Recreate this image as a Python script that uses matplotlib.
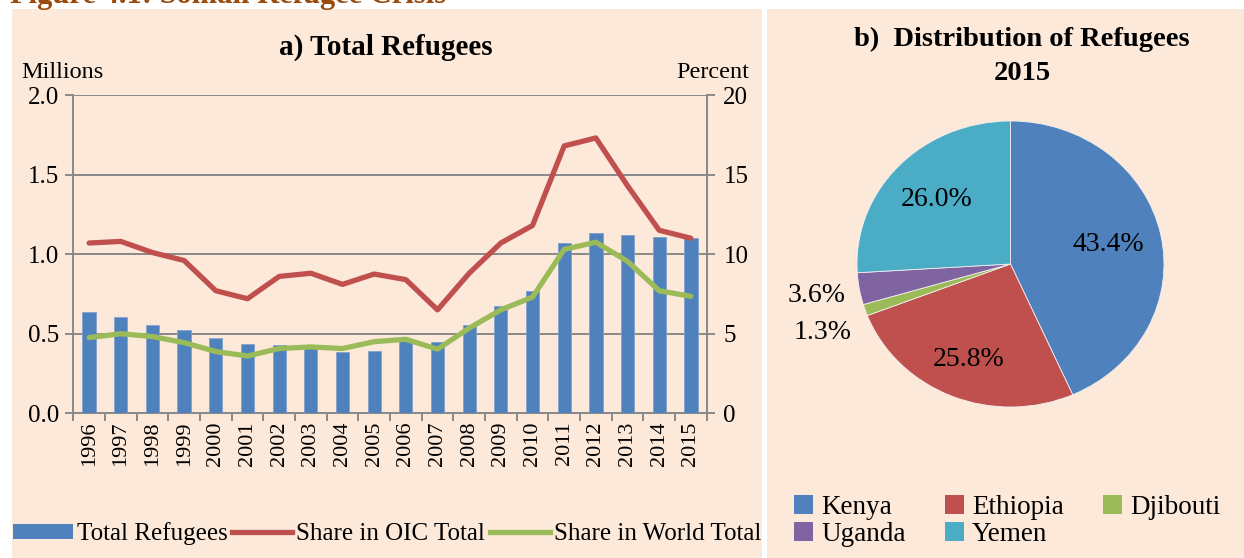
import numpy as np
import matplotlib
matplotlib.use("Agg")
import matplotlib.pyplot as plt
from matplotlib.patches import Rectangle, Patch
from matplotlib.lines import Line2D

plt.rcParams['font.family'] = ['Liberation Serif', 'DejaVu Serif']

# data
years = [str(y) for y in range(1996, 2016)]
total_refugees = [0.635, 0.604, 0.553, 0.522, 0.472, 0.436, 0.428, 0.42, 0.386, 0.39,
                  0.46, 0.45, 0.555, 0.675, 0.767, 1.073, 1.134, 1.12, 1.105, 1.10]
share_oic = [10.7, 10.8, 10.1, 9.6, 7.7, 7.2, 8.6, 8.8, 8.1, 8.75,
             8.4, 6.5, 8.8, 10.7, 11.8, 16.8, 17.3, 14.3, 11.5, 11.0]
share_world = [4.76, 5.0, 4.82, 4.44, 3.88, 3.6, 4.07, 4.17, 4.07, 4.5,
               4.65, 4.03, 5.35, 6.5, 7.3, 10.3, 10.75, 9.55, 7.7, 7.35]

countries = ['Kenya', 'Ethiopia', 'Djibouti', 'Uganda', 'Yemen']
shares_2015 = [43.4, 25.8, 1.3, 3.6, 26.0]

blue = '#4F81BD'
red = '#C0504D'
green = '#9BBB59'
purple = '#8064A2'
teal = '#4BACC6'
pie_colors = [blue, red, green, purple, teal]
peach = '#FDE9DA'
grid_gray = '#898989'

fig = plt.figure(figsize=(12.44, 5.58), dpi=100)
fig.patch.set_facecolor('white')

# panel backgrounds
fig.add_artist(Rectangle((12 / 1244, 0), 750 / 1244, 549 / 558, transform=fig.transFigure,
                         facecolor=peach, edgecolor='none', zorder=0))
fig.add_artist(Rectangle((767 / 1244, 0), 477 / 1244, 549 / 558, transform=fig.transFigure,
                         facecolor=peach, edgecolor='none', zorder=0))

# cut off figure heading at the very top
fig.text(10 / 1244, 1 - 3 / 558, 'Figure 4.1: Somali Refugee Crisis', color='#9A4A0C',
         fontsize=22, fontweight='bold', va='baseline', ha='left')

# ---- a) Total Refugees ----
ax = fig.add_axes([73.3 / 1244, (558 - 413.3) / 558, 633.4 / 1244, 318.3 / 558])
ax.set_facecolor(peach)
x = np.arange(len(years))
ax.bar(x, total_refugees, width=0.42, color=blue, edgecolor='#7FA3D0', linewidth=0.6, zorder=3)
ax.set_xlim(-0.5, len(years) - 0.5)
ax.set_ylim(0, 2.0)
ax.set_yticks([0, 0.5, 1.0, 1.5, 2.0])
ax.set_yticklabels([f'{v:.1f}' for v in [0, 0.5, 1.0, 1.5, 2.0]], fontsize=18)
ax.yaxis.grid(True, color=grid_gray, linewidth=1.4, zorder=1)
ax.set_axisbelow(True)
ax.set_xticks(x)
ax.set_xticklabels(years, rotation=90, fontsize=16)
ax.set_xticks(np.arange(-0.5, len(years)), minor=True)
ax.tick_params(axis='x', which='major', length=0, pad=6)
ax.tick_params(axis='x', which='minor', length=6, width=1.4, color=grid_gray)
ax.tick_params(axis='y', length=6, width=1.4, color=grid_gray, pad=4)
ax.spines['top'].set_visible(False)
for s in ['left', 'bottom', 'right']:
    ax.spines[s].set_color(grid_gray)
    ax.spines[s].set_linewidth(1.4)

ax2 = ax.twinx()
ax2.plot(x, share_oic, color=red, linewidth=3.8, solid_capstyle='round', zorder=4)
ax2.plot(x, share_world, color=green, linewidth=3.8, solid_capstyle='round', zorder=4)
ax2.set_ylim(0, 20)
ax2.set_yticks([0, 5, 10, 15, 20])
ax2.tick_params(axis='y', length=6, width=1.4, color=grid_gray, labelsize=18, pad=6)
for s in ['top', 'left', 'bottom']:
    ax2.spines[s].set_visible(False)
ax2.spines['right'].set_color(grid_gray)
ax2.spines['right'].set_linewidth(1.4)

fig.text(386 / 1244, 1 - 47 / 558, 'a) Total Refugees', fontsize=21, fontweight='bold',
         ha='center', va='center')
fig.text(21 / 1244, 1 - 72 / 558, 'Millions', fontsize=17.5, ha='left', va='center')
fig.text(749 / 1244, 1 - 72 / 558, 'Percent', fontsize=17.5, ha='right', va='center')

handles_a = [Patch(facecolor=blue, edgecolor='none'),
             Line2D([], [], color=red, linewidth=3.8),
             Line2D([], [], color=green, linewidth=3.8)]
fig.legend(handles_a, ['Total Refugees', 'Share in OIC Total', 'Share in World Total'],
           loc='center', bbox_to_anchor=(387 / 1244, 1 - 534 / 558), ncol=3, frameon=False,
           fontsize=18, handlelength=2.4, handletextpad=0.15, columnspacing=0.2,
           handleheight=0.5, borderpad=0.1)

# ---- b) Distribution of Refugees 2015 ----
axp = fig.add_axes([(1010.5 - 153.5) / 1244, (558 - 264 - 143) / 558, 307 / 1244, 286 / 558])
wedges, _ = axp.pie(shares_2015, colors=pie_colors, startangle=90, counterclock=False,
                    wedgeprops=dict(edgecolor='#F3EEEE', linewidth=0.6))
axp.set_aspect('auto')
axp.set_xlim(-1, 1)
axp.set_ylim(-1, 1)
label_r = [0.65, 0.72, 1.315, 1.28, 0.66]
label_shift = [0, 0, 2.5, 0, 0]
for w, val, r, d in zip(wedges, shares_2015, label_r, label_shift):
    ang = np.deg2rad((w.theta1 + w.theta2) / 2 + d)
    axp.text(r * np.cos(ang), r * np.sin(ang), f'{val:.1f}%', fontsize=20,
             ha='center', va='center')

fig.text(1022 / 1244, 1 - 39 / 558, 'b)  Distribution of Refugees', fontsize=20.5,
         fontweight='bold', ha='center', va='center')
fig.text(1022 / 1244, 1 - 73 / 558, '2015', fontsize=20.5, fontweight='bold',
         ha='center', va='center')

order = [0, 3, 1, 4, 2]
handles_b = [Patch(facecolor=pie_colors[i], edgecolor='none') for i in order]
fig.legend(handles_b, [countries[i] for i in order], loc='center',
           bbox_to_anchor=(1007 / 1244, 1 - 521 / 558), ncol=3, frameon=False,
           fontsize=19.5, handlelength=0.7, handleheight=0.7, handletextpad=0.3,
           columnspacing=1.45, labelspacing=0.05, borderpad=0.1)

fig.savefig('out.png', dpi=100)
